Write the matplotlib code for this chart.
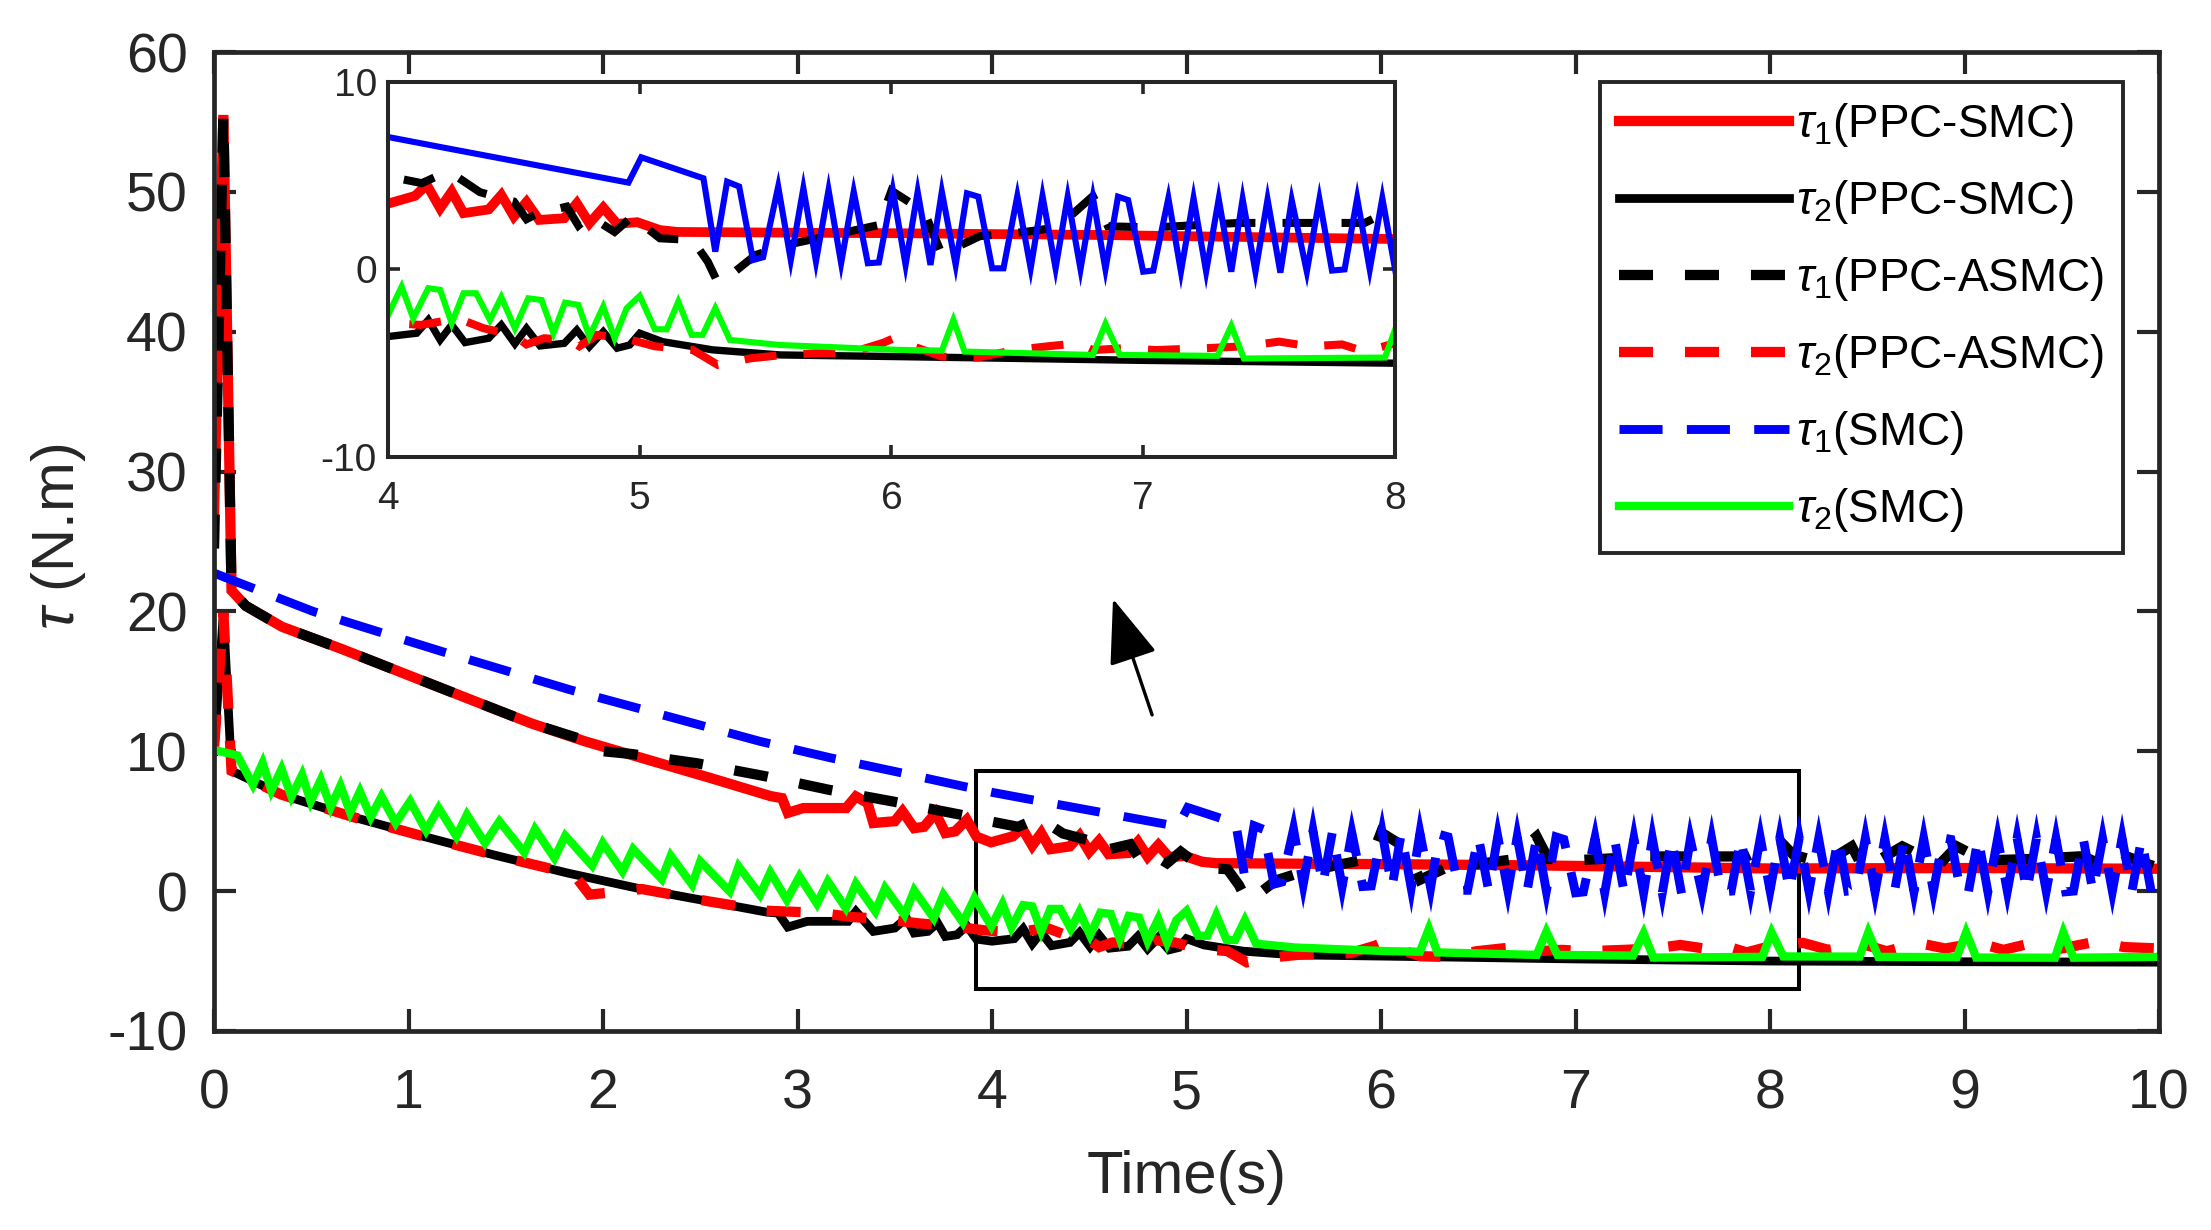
import matplotlib
matplotlib.use("Agg")
import matplotlib.pyplot as plt
from matplotlib.patches import Rectangle

plt.rcParams['font.family'] = ['Liberation Sans', 'DejaVu Sans']
plt.rcParams['mathtext.fontset'] = 'custom'
plt.rcParams['mathtext.rm'] = 'Liberation Sans'
plt.rcParams['mathtext.it'] = 'Liberation Sans:italic'
plt.rcParams['lines.scale_dashes'] = False
plt.rcParams['axes.unicode_minus'] = False

# ---------------- data (time [s], torque [N.m]) ----------------
tau1_ppc_smc = [(0, 27.0), (0.048, 55.5), (0.09, 21.5), (0.163, 20.4), (0.35, 18.9), (0.659, 17.3),
                (0.97, 15.6), (1.30, 13.8), (1.63, 12.0), (1.91, 10.7), (2.18, 9.6), (2.55, 8.1),
                (2.86, 6.8), (2.92, 6.65), (2.95, 5.6), (3.03, 5.94), (3.25, 5.94), (3.30, 6.77),
                (3.36, 6.3), (3.39, 4.87), (3.50, 5.0), (3.54, 5.7), (3.60, 4.5), (3.65, 4.6),
                (3.71, 5.58), (3.76, 4.15), (3.81, 4.27), (3.87, 5.1), (3.92, 3.9), (3.995, 3.49),
                (4.107, 3.92), (4.154, 4.51), (4.207, 3.26), (4.253, 4.15), (4.30, 3.0), (4.40, 3.2),
                (4.45, 3.97), (4.50, 2.82), (4.55, 3.6), (4.60, 2.64), (4.70, 2.73), (4.75, 3.53),
                (4.80, 2.46), (4.855, 3.3), (4.91, 2.43), (4.99, 2.52), (5.08, 2.1), (5.15, 2.0),
                (5.6, 1.96), (6.03, 1.93), (6.8, 1.84), (8.0, 1.62), (9.0, 1.65), (10.0, 1.6)]

tau2_ppc_smc = [(0, 10.0), (0.048, 19.9), (0.09, 8.6), (0.347, 6.9), (0.714, 5.3), (1.08, 3.9),
                (1.45, 2.55), (1.816, 1.3), (2.18, 0.2), (2.55, -0.75), (2.84, -1.5), (2.90, -1.57),
                (2.95, -2.57), (3.05, -2.16), (3.26, -2.16), (3.30, -1.45), (3.39, -2.88), (3.50, -2.64),
                (3.56, -1.93), (3.60, -3.0), (3.67, -2.88), (3.72, -2.28), (3.76, -3.24), (3.82, -3.12),
                (3.87, -2.47), (3.92, -3.43), (4.0, -3.58), (4.114, -3.4), (4.16, -2.69), (4.207, -3.76),
                (4.253, -2.96), (4.306, -3.9), (4.40, -3.67), (4.45, -2.96), (4.504, -3.97), (4.55, -3.14),
                (4.604, -4.08), (4.70, -3.94), (4.75, -3.23), (4.80, -4.12), (4.855, -3.32), (4.91, -4.2),
                (4.96, -4.03), (5.0, -3.4), (5.09, -3.85), (5.29, -4.29), (5.557, -4.56), (6.03, -4.65),
                (7.0, -4.85), (8.0, -5.0), (9.0, -5.05), (10.0, -5.08)]

tau1_ppc_asmc = [(0, 24.5), (0.048, 55.5), (0.09, 21.5), (0.163, 20.4), (0.35, 18.9), (0.659, 17.3),
                 (0.97, 15.6), (1.30, 13.8), (1.63, 12.0), (1.88, 10.9), (1.93, 10.1), (2.15, 9.8),
                 (2.48, 9.15), (2.84, 8.2), (3.16, 7.25), (3.49, 6.41), (3.84, 5.46), (4.005, 4.95),
                 (4.134, 4.6), (4.20, 5.0), (4.253, 5.13), (4.365, 4.12), (4.50, 3.62), (4.55, 2.68),
                 (4.59, 2.96), (4.71, 3.35), (4.756, 2.34), (4.80, 2.85), (4.90, 2.0), (4.97, 2.82),
                 (5.08, 1.66), (5.21, 1.57), (5.27, 0.42), (5.31, -0.7), (5.345, -0.47), (5.46, 0.77),
                 (5.58, 1.3), (5.80, 1.93), (5.95, 2.37), (6.0, 4.2), (6.13, 3.08), (6.20, 0.81),
                 (6.35, 1.77), (6.53, 2.0), (6.66, 2.24), (6.80, 3.91), (6.86, 2.3), (7.04, 2.24),
                 (7.21, 2.36), (7.38, 2.48), (7.52, 2.48), (7.88, 2.48), (8.05, 3.6), (8.12, 2.6),
                 (8.28, 2.0), (8.42, 3.2), (8.48, 1.6), (8.68, 3.2), (8.87, 1.9), (8.96, 3.2),
                 (9.1, 2.2), (9.35, 2.3), (9.61, 2.5), (9.75, 1.6), (9.85, 2.4), (9.97, 1.8)]

tau2_ppc_asmc = [(0, 10.2), (0.048, 19.9), (0.09, 8.6), (0.347, 6.9), (0.714, 5.3), (1.08, 3.9),
                 (1.45, 2.55), (1.85, 1.2), (1.93, -0.25), (2.07, -0.05), (2.2, 0.15), (2.55, -0.75),
                 (2.84, -1.4), (3.11, -1.55), (3.28, -1.85), (3.45, -2.0), (3.62, -2.3), (3.79, -2.5),
                 (3.96, -2.8), (4.0, -2.84), (4.13, -2.96), (4.28, -2.62), (4.38, -3.14), (4.50, -3.5),
                 (4.55, -4.0), (4.62, -3.67), (4.72, -3.76), (4.76, -4.1), (4.83, -3.49), (4.94, -3.67),
                 (5.06, -4.1), (5.21, -4.29), (5.31, -5.09), (5.44, -4.74), (5.57, -4.56), (5.70, -4.47),
                 (5.84, -4.44), (5.97, -3.9), (6.02, -3.6), (6.09, -4.12), (6.2, -4.65), (6.34, -4.7),
                 (6.49, -4.3), (6.62, -4.1), (6.74, -3.94), (6.8, -4.3), (6.93, -4.2), (7.05, -4.3),
                 (7.25, -4.2), (7.4, -4.1), (7.54, -3.85), (7.66, -4.1), (7.79, -4.0), (7.88, -4.38),
                 (8.0, -3.94), (8.17, -3.7), (8.3, -4.2), (8.48, -3.8), (8.6, -4.3), (8.76, -3.7),
                 (8.9, -4.1), (9.07, -3.7), (9.2, -4.2), (9.35, -3.7), (9.5, -4.1), (9.68, -3.6),
                 (9.82, -4.0), (10.0, -4.1)]

tau1_smc = [(0, 22.74), (0.51, 20.0), (1.17, 17.14), (1.83, 14.4), (2.81, 10.7), (3.17, 9.53),
            (3.50, 8.56), (3.85, 7.5), (4.005, 7.05), (4.18, 6.6), (4.955, 4.63), (5.006, 5.98),
            (5.253, 4.86), (5.30, 0.95), (5.347, 4.68), (5.395, 4.42), (5.45, 0.5), (5.49, 0.65),
            (5.55, 4.42), (5.60, 0.5), (5.65, 4.33), (5.70, 0.42), (5.75, 4.24), (5.80, 0.33),
            (5.85, 4.15), (5.906, 0.33), (5.95, 0.37), (6.005, 4.24), (6.056, 0.24), (6.104, 4.15),
            (6.155, 0.24), (6.20, 4.15), (6.255, 0.24), (6.30, 4.06), (6.345, 3.88), (6.40, 0.06),
            (6.445, 0.06), (6.50, 3.92), (6.553, 0.06), (6.60, 3.92), (6.652, 0.06), (6.70, 3.88),
            (6.751, 0.01), (6.80, 3.85), (6.85, 0.01), (6.90, 3.88), (6.94, 3.7), (7.0, -0.12),
            (7.04, -0.06), (7.10, 3.8), (7.15, -0.12), (7.20, 3.8), (7.25, -0.12), (7.30, 3.76),
            (7.35, -0.12), (7.395, 3.76), (7.446, -0.12), (7.494, 3.74), (7.545, -0.17), (7.59, 3.7),
            (7.65, -0.12), (7.70, 3.75), (7.75, -0.06), (7.80, 0.0), (7.85, 3.8), (7.90, 0.0),
            (7.95, 3.8), (8.0, 0.06), (8.05, 3.8), (8.10, 0.0), (8.15, 3.8), (8.20, 0.0),
            (8.25, 3.75), (8.30, -0.05), (8.35, 3.8), (8.40, 0.0), (8.44, 0.05), (8.49, 3.8),
            (8.54, -0.05), (8.59, 3.75), (8.64, 0.0), (8.69, 3.8), (8.74, -0.05), (8.79, 3.75),
            (8.84, 0.0), (8.89, 3.8), (8.93, 3.7), (8.98, -0.1), (9.02, -0.05), (9.07, 3.8),
            (9.12, -0.05), (9.17, 3.75), (9.22, 0.0), (9.27, 3.8), (9.32, -0.05), (9.37, 3.8),
            (9.42, 0.0), (9.47, 3.75), (9.52, -0.05), (9.56, 0.0), (9.61, 3.8), (9.66, -0.05),
            (9.71, 3.75), (9.76, 0.0), (9.81, 3.8), (9.86, -0.05), (9.91, 3.75), (9.96, -0.05)]

tau2_smc = [(0, 10.1), (0.12, 9.7), (0.20, 7.61), (0.25, 9.16), (0.295, 7.2), (0.347, 8.73),
            (0.398, 6.77), (0.453, 8.32), (0.497, 6.42), (0.549, 7.97), (0.60, 6.01), (0.65, 7.54),
            (0.70, 5.63), (0.75, 7.13), (0.806, 5.30), (0.861, 6.77), (0.934, 4.87), (1.008, 6.42),
            (1.09, 4.34), (1.155, 5.94), (1.246, 3.92), (1.30, 5.46), (1.393, 3.44), (1.467, 4.99),
            (1.595, 2.77), (1.65, 4.44), (1.75, 2.37), (1.806, 3.96), (1.944, 1.82), (1.999, 3.44),
            (2.10, 1.41), (2.155, 3.01), (2.302, 0.86), (2.348, 2.53), (2.458, 0.46), (2.50, 2.13),
            (2.651, -0.02), (2.697, 1.77), (2.807, -0.26), (2.86, 1.34), (2.945, -0.62), (3.01, 1.05),
            (3.10, -0.9), (3.156, 0.69), (3.248, -1.21), (3.30, 0.53), (3.40, -1.45), (3.45, 0.22),
            (3.55, -1.69), (3.60, 0.05), (3.70, -1.93), (3.75, -0.26), (3.85, -2.24), (3.91, -0.5),
            (3.997, -2.52), (4.054, -0.92), (4.10, -2.6), (4.16, -1.0), (4.207, -1.09), (4.253, -2.87),
            (4.30, -1.27), (4.35, -1.27), (4.405, -2.7), (4.45, -1.48), (4.504, -3.14), (4.557, -1.54),
            (4.61, -1.63), (4.657, -3.4), (4.703, -1.77), (4.756, -1.89), (4.80, -3.58), (4.855, -1.98),
            (4.90, -3.67), (4.948, -2.07), (5.0, -1.41), (5.06, -3.19), (5.107, -3.19), (5.153, -1.72),
            (5.206, -3.49), (5.25, -3.49), (5.30, -2.07), (5.358, -3.76), (5.557, -4.03), (6.03, -4.29),
            (6.20, -4.33), (6.246, -2.69), (6.29, -4.38), (6.80, -4.56), (6.85, -2.9), (6.907, -4.56),
            (7.295, -4.61), (7.35, -3.01), (7.40, -4.75), (7.96, -4.7), (8.008, -2.95), (8.068, -4.67),
            (8.46, -4.68), (8.505, -2.95), (8.557, -4.7), (8.96, -4.72), (9.008, -2.95), (9.06, -4.75),
            (9.465, -4.76), (9.508, -2.95), (9.56, -4.76), (10.0, -4.7)]

labels = [r'$\tau_1$(PPC-SMC)', r'$\tau_2$(PPC-SMC)', r'$\tau_1$(PPC-ASMC)',
          r'$\tau_2$(PPC-ASMC)', r'$\tau_1$(SMC)', r'$\tau_2$(SMC)']
series = [tau1_ppc_smc, tau2_ppc_smc, tau1_ppc_asmc, tau2_ppc_asmc, tau1_smc, tau2_smc]

x_ticks = list(range(0, 11))
y_ticks = list(range(-10, 61, 10))
inset_x_ticks = [4, 5, 6, 7, 8]
inset_y_ticks = [-10, 0, 10]
zoom_box = (3.92, 8.15, -6.98, 8.56)          # t0, t1, y0, y1
arrow_tip = (4.622, 20.9)
arrow_tail = (4.823, 12.6)

# ---------------- styles ----------------
DASH_K = (0, (24.5, 23))
DASH_B = (0, (31, 17.5))
main_styles = [dict(color='#ff0000', ls='-', lw=7.4),
               dict(color='#000000', ls='-', lw=6.3),
               dict(color='#000000', ls=DASH_K, lw=7.4),
               dict(color='#ff0000', ls=DASH_K, lw=7.4),
               dict(color='#0000ff', ls=DASH_B, lw=6.4),
               dict(color='#00ff00', ls='-', lw=6.0)]
inset_styles = [dict(color='#ff0000', ls='-', lw=7.0),
                dict(color='#000000', ls='-', lw=5.3),
                dict(color='#000000', ls=(0, (23, 19.5)), lw=5.8),
                dict(color='#ff0000', ls=(0, (23, 19.5)), lw=5.8),
                dict(color='#0000ff', ls='-', lw=4.4),
                dict(color='#00ff00', ls='-', lw=4.4)]
AX_COLOR = '#262626'

fig = plt.figure(figsize=(22.11, 12.30), dpi=100)
ax = fig.add_axes([0.0968, 0.1618, 0.8797, 0.7959])

for data, st, lab in zip(series, main_styles, labels):
    t = [p[0] for p in data]
    v = [p[1] for p in data]
    ax.plot(t, v, color=st['color'], linestyle=st['ls'], linewidth=st['lw'], label=lab,
            solid_joinstyle='miter', dash_joinstyle='miter')

ax.set_xlim(0, 10)
ax.set_ylim(-10, 60)
ax.set_xticks(x_ticks)
ax.set_yticks(y_ticks)
ax.tick_params(direction='in', length=15.8, width=3.0, top=True, right=True,
               labelsize=40, colors=AX_COLOR)
ax.tick_params(axis='x', pad=27)
ax.tick_params(axis='y', pad=19)
for s in ax.spines.values():
    s.set_linewidth(3.4)
    s.set_color(AX_COLOR)

t0, t1, y0, y1 = zoom_box
ax.add_patch(Rectangle((t0, y0), t1 - t0, y1 - y0, fill=False, edgecolor='k',
                       linewidth=2.9, zorder=1.5))
ax.annotate('', xy=arrow_tip, xytext=arrow_tail,
            arrowprops=dict(arrowstyle='-|>,head_length=2.9,head_width=1.1', mutation_scale=14,
                            lw=2.4, color='k', shrinkA=0, shrinkB=0))

leg = ax.legend(loc='upper right', bbox_to_anchor=(0.9602, 0.9333), bbox_transform=fig.transFigure,
                fontsize=33, handlelength=3.7, handletextpad=0.15, borderpad=0.42,
                labelspacing=0.63, borderaxespad=0, fancybox=False, edgecolor=AX_COLOR,
                framealpha=1)
leg.get_frame().set_linewidth(2.8)

fig.text(0.5366, 0.0301, 'Time(s)', ha='center', va='baseline', fontsize=43, color=AX_COLOR)
fig.text(0.0265, 0.5634, r'$\tau$ (N.m)', rotation=90, ha='center', va='center',
         fontsize=43, color=AX_COLOR)

# ---------------- inset ----------------
axi = fig.add_axes([0.1755, 0.6285, 0.4554, 0.3049])
axi.set_facecolor('white')
for data, st in zip(series, inset_styles):
    t = [p[0] for p in data]
    v = [p[1] for p in data]
    axi.plot(t, v, color=st['color'], linestyle=st['ls'], linewidth=st['lw'],
             solid_joinstyle='miter', dash_joinstyle='miter')
axi.set_xlim(4, 8)
axi.set_ylim(-10, 10)
axi.set_xticks(inset_x_ticks)
axi.set_yticks(inset_y_ticks)
axi.tick_params(direction='in', length=8.9, width=2.6, top=True, right=True,
                labelsize=28, colors=AX_COLOR)
axi.tick_params(axis='x', pad=17)
axi.tick_params(axis='y', pad=8)
for s in axi.spines.values():
    s.set_linewidth(2.9)
    s.set_color(AX_COLOR)

fig.savefig('out.png', dpi=100)
